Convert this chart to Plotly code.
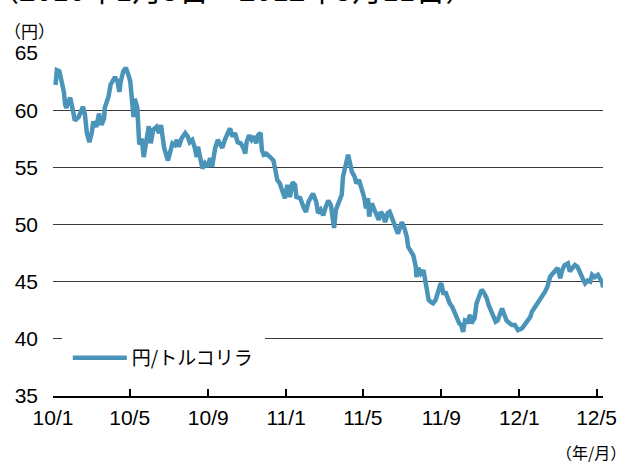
import plotly.graph_objects as go

dates = [
    "2010-01-05", "2010-01-07", "2010-01-11", "2010-01-15", "2010-01-18", "2010-01-20", "2010-01-22",
    "2010-01-25", "2010-01-28", "2010-02-02", "2010-02-04", "2010-02-10", "2010-02-17", "2010-02-20",
    "2010-02-23", "2010-02-27", "2010-03-03", "2010-03-05", "2010-03-10", "2010-03-14", "2010-03-18",
    "2010-03-22", "2010-03-23", "2010-03-29", "2010-04-01", "2010-04-08", "2010-04-12", "2010-04-15",
    "2010-04-17", "2010-04-21", "2010-04-25", "2010-04-29", "2010-05-02", "2010-05-04", "2010-05-07",
    "2010-05-09", "2010-05-13", "2010-05-16", "2010-05-20", "2010-05-23", "2010-05-28", "2010-05-31",
    "2010-06-03", "2010-06-07", "2010-06-12", "2010-06-16", "2010-06-19", "2010-06-24", "2010-06-30",
    "2010-07-03", "2010-07-07", "2010-07-11", "2010-07-14", "2010-07-17", "2010-07-21", "2010-07-27",
    "2010-07-31", "2010-08-03", "2010-08-07", "2010-08-11", "2010-08-14", "2010-08-16", "2010-08-19",
    "2010-08-23", "2010-08-27", "2010-08-31", "2010-09-04", "2010-09-07", "2010-09-12", "2010-09-16",
    "2010-09-19", "2010-09-23", "2010-09-27", "2010-10-01", "2010-10-05", "2010-10-09", "2010-10-13",
    "2010-10-17", "2010-10-22", "2010-10-26", "2010-10-29", "2010-10-31", "2010-11-04", "2010-11-08",
    "2010-11-12", "2010-11-15", "2010-11-18", "2010-11-22", "2010-11-24", "2010-11-27", "2010-12-01",
    "2010-12-07", "2010-12-12", "2010-12-15", "2010-12-18", "2010-12-22", "2010-12-27", "2010-12-30",
    "2011-01-03", "2011-01-07", "2011-01-11", "2011-01-15", "2011-01-17", "2011-01-23", "2011-01-28",
    "2011-02-01", "2011-02-05", "2011-02-08", "2011-02-12", "2011-02-17", "2011-02-20", "2011-02-24",
    "2011-02-28", "2011-03-04", "2011-03-08", "2011-03-12", "2011-03-15", "2011-03-17", "2011-03-20",
    "2011-03-24", "2011-03-26", "2011-03-29", "2011-03-31", "2011-04-03", "2011-04-06", "2011-04-08",
    "2011-04-11", "2011-04-14", "2011-04-18", "2011-04-21", "2011-04-25", "2011-04-29", "2011-05-03",
    "2011-05-06", "2011-05-09", "2011-05-11", "2011-05-15", "2011-05-19", "2011-05-23", "2011-05-26",
    "2011-05-29", "2011-06-02", "2011-06-05", "2011-06-09", "2011-06-12", "2011-06-16", "2011-06-20",
    "2011-06-25", "2011-06-28", "2011-07-01", "2011-07-05", "2011-07-09", "2011-07-11", "2011-07-15",
    "2011-07-19", "2011-07-23", "2011-07-24", "2011-07-27", "2011-07-31", "2011-08-04", "2011-08-09",
    "2011-08-12", "2011-08-16", "2011-08-19", "2011-08-23", "2011-08-26", "2011-08-30", "2011-09-01",
    "2011-09-04", "2011-09-08", "2011-09-11", "2011-09-14", "2011-09-18", "2011-09-21", "2011-09-25",
    "2011-09-29", "2011-10-02", "2011-10-05", "2011-10-08", "2011-10-12", "2011-10-16", "2011-10-18",
    "2011-10-23", "2011-10-26", "2011-10-30", "2011-11-03", "2011-11-07", "2011-11-11", "2011-11-14",
    "2011-11-18", "2011-11-21", "2011-11-25", "2011-11-28", "2011-12-02", "2011-12-05", "2011-12-08",
    "2011-12-12", "2011-12-17", "2011-12-21", "2011-12-25", "2011-12-30", "2012-01-05", "2012-01-09",
    "2012-01-13", "2012-01-18", "2012-01-21", "2012-01-26", "2012-01-30", "2012-02-02", "2012-02-06",
    "2012-02-10", "2012-02-14", "2012-02-18", "2012-02-22", "2012-02-26", "2012-03-01", "2012-03-05",
    "2012-03-08", "2012-03-12", "2012-03-17", "2012-03-20", "2012-03-24", "2012-03-28", "2012-04-01",
    "2012-04-05", "2012-04-09", "2012-04-13", "2012-04-17", "2012-04-21", "2012-04-24", "2012-04-28",
    "2012-05-03", "2012-05-06", "2012-05-10", "2012-05-11",
]

jpy_try = [
    62.2, 63.5, 63.4, 62.5, 61.6, 60.5, 60.2,
    60.7, 61.1, 59.75, 59.1, 59.4, 60.3, 59.6,
    58.0, 57.2, 58.1, 59.0, 58.55, 59.7, 58.7,
    59.3, 60.2, 61.2, 62.2, 62.9, 62.5, 61.6,
    62.5, 63.4, 63.7, 63.1, 62.5, 61.3, 59.4,
    61.0, 60.2, 57.0, 57.5, 55.9, 57.8, 58.6,
    57.1, 58.3, 58.55, 58.0, 58.7, 56.7, 55.6,
    56.2, 57.1, 56.95, 57.4, 56.8, 57.5, 58.0,
    57.7, 57.2, 57.4, 56.7, 55.9, 56.8, 55.8,
    54.9, 55.35, 55.05, 55.8, 55.05, 56.7, 57.4,
    57.1, 56.7, 57.4, 57.8, 58.4, 57.7, 58.0,
    57.2, 57.1, 56.7, 56.2, 57.2, 57.8, 57.4,
    57.7, 57.1, 57.8, 58.0, 56.5, 56.1, 56.2,
    55.9, 55.6, 54.8, 53.9, 53.6, 52.7, 52.3,
    53.45, 52.4, 53.7, 53.45, 52.4, 52.3, 51.55,
    51.1, 52.0, 52.3, 52.7, 52.0, 51.0, 51.3,
    50.8, 51.55, 52.1, 51.7, 50.8, 49.7, 51.3,
    52.0, 52.3, 52.6, 54.2, 55.05, 55.8, 56.1,
    55.35, 54.6, 54.2, 53.6, 53.9, 53.2, 52.4,
    51.4, 52.3, 50.7, 51.85, 51.3, 50.8, 50.4,
    51.1, 50.8, 50.2, 51.0, 51.1, 50.4, 49.95,
    49.2, 49.8, 50.2, 49.7, 48.9, 48.05, 47.6,
    47.3, 46.3, 45.4, 46.2, 45.7, 46.0, 44.55,
    43.4, 43.2, 43.1, 43.4, 44.1, 44.7, 44.85,
    44.0, 44.0, 43.55, 43.1, 42.8, 42.4, 41.8,
    41.35, 41.2, 40.6, 41.6, 41.5, 42.1, 41.35,
    41.8, 43.1, 43.7, 44.3, 44.0, 43.55, 42.95,
    42.5, 42.1, 41.5, 41.6, 42.2, 42.65, 42.2,
    41.6, 41.35, 41.2, 41.2, 40.75, 40.9, 41.2,
    41.6, 41.9, 42.4, 42.8, 43.1, 43.4, 43.8,
    44.1, 44.55, 45.4, 45.7, 45.9, 46.2, 45.3,
    46.0, 46.45, 46.6, 45.9, 46.2, 46.45, 46.3,
    45.7, 45.3, 44.85, 45.1, 45.0, 45.6, 45.4,
    45.6, 45.3, 44.85, 44.5,
]

series_name = "円/トルコリラ"
y_ticks = [35, 40, 45, 50, 55, 60, 65]
period_text = "（2010年1月5日～2012年5月11日）"
y_unit = "（円）"
x_unit = "（年/月）"

LINE_COLOR = "#4A93B9"
LATIN = "Liberation Sans, Arial, sans-serif"
CJK = "Noto Sans CJK JP, sans-serif"

fig = go.Figure(
    go.Scatter(
        x=dates, y=jpy_try, mode="lines", name=series_name,
        line=dict(color=LINE_COLOR, width=4.5),
    )
)

fig.update_layout(
    width=632, height=464,
    margin=dict(l=53, r=29, t=53, b=68),
    paper_bgcolor="white", plot_bgcolor="white",
    font=dict(family=LATIN, size=21, color="black"),
    showlegend=True,
    legend=dict(
        x=0.016, y=0.111, xanchor="left", yanchor="middle",
        bgcolor="white", bordercolor="white", borderwidth=6,
        font=dict(family=CJK, size=19, color="black"),
        itemwidth=54,
    ),
    annotations=[
        dict(text=period_text, xref="paper", yref="paper", x=-0.12, y=1.19,
             xanchor="left", yanchor="middle", showarrow=False,
             font=dict(family=CJK, size=30, color="black")),
        dict(text=y_unit, xref="paper", yref="paper", x=-0.092, y=1.067,
             xanchor="left", yanchor="middle", showarrow=False,
             font=dict(family=CJK, size=17, color="black")),
        dict(text=x_unit, xref="paper", yref="paper", x=1.045, y=-0.162,
             xanchor="right", yanchor="middle", showarrow=False,
             font=dict(family=CJK, size=16, color="black")),
    ],
)

fig.update_xaxes(
    type="date", range=["2010-01-01", "2012-05-11"],
    tick0="2010-01-01", dtick="M4", tickformat="%y/%-m",
    ticks="inside", ticklen=7, tickcolor="black", tickwidth=1.5,
    showline=True, linecolor="black", linewidth=2,
    showgrid=False, zeroline=False, ticklabelstandoff=2,
    tickfont=dict(family=LATIN, size=21),
)
fig.update_yaxes(
    range=[35, 65], tickvals=y_ticks,
    showgrid=True, gridcolor="#3a3a3a", gridwidth=1,
    zeroline=False, showline=False, ticks="",
    ticklabelstandoff=14,
    tickfont=dict(family=LATIN, size=21),
)

fig.write_html(
    "out.html",
    config={"displayModeBar": False},
    post_script="document.body.style.margin='0';document.body.style.overflow='hidden';",
)
